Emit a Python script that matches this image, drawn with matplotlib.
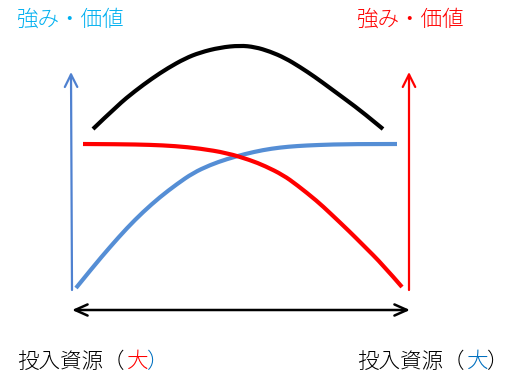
import matplotlib.pyplot as plt
from matplotlib.path import Path
from matplotlib.patches import PathPatch

plt.rcParams['font.family'] = ['Noto Sans CJK JP', 'DejaVu Sans']

# curve samples (pixel coordinates, y grows downward)
blue_x = [76, 93, 110, 127, 143, 160, 177, 193, 210, 227, 245, 263, 280, 297, 317, 350, 397]
blue_y = [288, 267, 247, 228, 212, 197, 184, 173, 165, 159, 154, 150, 147.5, 146, 145, 144, 144]
red_x = [83, 120, 150, 175, 200, 227, 250, 265, 283, 297, 317, 330, 350, 363, 383, 402]
red_y = [144, 144.2, 144.8, 146, 148.5, 153, 160, 166, 175, 185, 201, 213, 232, 245, 265, 287]
black_x = [93, 118, 135, 152, 168, 185, 200, 220, 240, 255, 270, 285, 300, 315, 330, 347, 363, 383]
black_y = [129, 105, 91, 78.5, 68, 58.5, 52.5, 47.5, 45.5, 47, 51.5, 58, 67, 77, 88, 100.5, 112.5, 129]

top_label = "強み・価値"
bottom_label = "投入資源（"


def smooth_path(xs, ys):
    # quadratic bezier through midpoints, sample points used as controls
    pts = list(zip(xs, ys))
    verts = [pts[0]]
    codes = [Path.MOVETO]
    for i in range(1, len(pts) - 1):
        if i < len(pts) - 2:
            end = ((pts[i][0] + pts[i + 1][0]) / 2, (pts[i][1] + pts[i + 1][1]) / 2)
        else:
            end = pts[i + 1]
        verts += [pts[i], end]
        codes += [Path.CURVE3, Path.CURVE3]
    return Path(verts, codes)


fig = plt.figure(figsize=(5.25, 3.88), dpi=100)
ax = fig.add_axes([0, 0, 1, 1])
ax.set_xlim(0, 525)
ax.set_ylim(388, 0)
ax.axis('off')

# axes arrows
ax.annotate('', xy=(71, 72), xytext=(72, 290),
            arrowprops=dict(arrowstyle='->,head_length=0.9,head_width=0.45',
                            color='#4F81D0', lw=1.6, shrinkA=0, shrinkB=0))
ax.annotate('', xy=(409, 72), xytext=(409, 290),
            arrowprops=dict(arrowstyle='->,head_length=0.9,head_width=0.45',
                            color='#FF0000', lw=1.6, shrinkA=0, shrinkB=0))
ax.annotate('', xy=(72, 310), xytext=(410, 310),
            arrowprops=dict(arrowstyle='<->,head_length=0.9,head_width=0.4',
                            color='black', lw=1.8, shrinkA=0, shrinkB=0))

# curves
for xs, ys, c in [(black_x, black_y, 'black'),
                  (blue_x, blue_y, '#558ED5'),
                  (red_x, red_y, '#FF0000')]:
    ax.add_patch(PathPatch(smooth_path(xs, ys), facecolor='none',
                           edgecolor=c, lw=3, capstyle='butt'))

# labels
fs = 15.5
kw = dict(fontsize=fs, va='center', ha='left', fontweight='light')
ax.text(17, 20, top_label, color='#00B0F0', **kw)
ax.text(357, 20, top_label, color='#FF0000', **kw)

ax.text(17, 362, bottom_label, color='black', **kw)
ax.text(127, 362, "大", color='#FF0000', **kw)
ax.text(147, 362, "）", color='#0070C0', **kw)

ax.text(357, 362, bottom_label, color='black', **kw)
ax.text(467, 362, "大", color='#0070C0', **kw)
ax.text(487, 362, "）", color='black', **kw)

fig.savefig('out.png', dpi=100)
